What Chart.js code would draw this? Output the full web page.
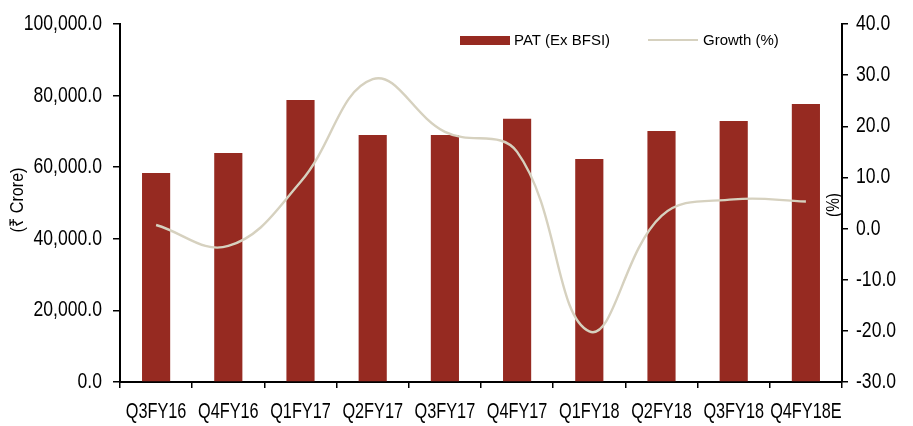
<!DOCTYPE html>
<html lang="en">
<head>
<meta charset="UTF-8">
<title>PAT (Ex BFSI) and Growth</title>
<script src="https://cdn.jsdelivr.net/npm/chart.js"></script>
<style>
  html, body { margin: 0; padding: 0; background: #fff; }
  #wrap { width: 913px; height: 426px; position: relative; }
</style>
</head>
<body>
<div id="wrap"><canvas id="patChart"></canvas></div>
<script>
const quarters = ['Q3FY16', 'Q4FY16', 'Q1FY17', 'Q2FY17', 'Q3FY17', 'Q4FY17', 'Q1FY18', 'Q2FY18', 'Q3FY18', 'Q4FY18E'];
const patExBfsi = [58400, 64000, 78800, 69000, 69000, 73500, 62300, 70100, 72900, 77650];
const growthPct = [0.7, -3.4, 9.1, 29.2, 18.9, 15.0, -20.1, 2.5, 5.7, 5.3];

const sans = "'Liberation Sans', Arial, sans-serif";
const barColor = '#962a21';
const lineColor = '#d6d1bf';

const fmt = v => Number(v).toLocaleString('en-US', { minimumFractionDigits: 1, maximumFractionDigits: 1 });

// the original uses a narrow face; no narrow font here, so squeeze Liberation Sans
function narrowText(ctx, text, x, y, size, sx, align, rot) {
    ctx.save();
    ctx.translate(x, y);
    if (rot) ctx.rotate(rot);
    ctx.scale(sx, 1);
    ctx.font = size + 'px ' + sans;
    ctx.textAlign = align;
    ctx.textBaseline = 'middle';
    ctx.fillStyle = '#000';
    ctx.fillText(text, 0, 0);
    ctx.restore();
}

const extras = {
    id: 'extras',
    afterDraw(chart) {
        const ctx = chart.ctx;
        const { x, y, y1 } = chart.scales;

        x.ticks.forEach((t, i) => {
            narrowText(ctx, quarters[i], x.getPixelForTick(i), 412, 22, 0.74, 'center');
        });
        y.ticks.forEach((t, i) => {
            narrowText(ctx, fmt(t.value), 102, y.getPixelForTick(i), 22, 0.8, 'right');
        });
        y1.ticks.forEach((t, i) => {
            narrowText(ctx, fmt(t.value), 856, y1.getPixelForTick(i), 22, 0.8, 'left');
        });

        narrowText(ctx, '(\u20B9 Crore)', 18, 200, 19, 0.85, 'center', -Math.PI / 2);
        narrowText(ctx, '(%)', 834, 205, 18, 0.85, 'center', -Math.PI / 2);

        // legend
        ctx.save();
        ctx.fillStyle = barColor;
        ctx.fillRect(460, 36, 50, 9);
        ctx.strokeStyle = lineColor;
        ctx.lineWidth = 2;
        ctx.beginPath();
        ctx.moveTo(648, 40);
        ctx.lineTo(698, 40);
        ctx.stroke();
        ctx.fillStyle = '#000';
        ctx.font = '15px ' + sans;
        ctx.textBaseline = 'middle';
        ctx.fillText('PAT (Ex BFSI)', 514, 41);
        ctx.fillText('Growth (%)', 703, 41);
        ctx.restore();
    }
};

const hidden = { color: 'rgba(0,0,0,0)', font: { size: 21 } };

const ctx = document.getElementById('patChart').getContext('2d');
new Chart(ctx, {
    data: {
        labels: quarters,
        datasets: [
            {
                type: 'line',
                label: 'Growth (%)',
                data: growthPct,
                yAxisID: 'y1',
                borderColor: lineColor,
                borderWidth: 2.4,
                pointRadius: 0,
                tension: 0.4,
                fill: false,
                order: 0
            },
            {
                type: 'bar',
                label: 'PAT (Ex BFSI)',
                data: patExBfsi,
                yAxisID: 'y',
                backgroundColor: barColor,
                categoryPercentage: 1,
                barPercentage: 0.39,
                order: 1
            }
        ]
    },
    options: {
        responsive: true,
        maintainAspectRatio: false,
        animation: false,
        layout: { padding: { top: 24, bottom: 0, left: 0, right: 0 } },
        plugins: {
            legend: { display: false },
            tooltip: { enabled: false }
        },
        scales: {
            x: {
                offset: true,
                grid: { offset: true, drawOnChartArea: false, color: '#000', tickLength: 6, lineWidth: 1.5 },
                border: { color: '#000', width: 2 },
                ticks: { ...hidden, maxRotation: 0, autoSkip: false },
                afterFit(s) { s.height = 44; }
            },
            y: {
                position: 'left',
                min: 0,
                max: 100000,
                grid: { drawOnChartArea: false, color: '#000', tickLength: 7, lineWidth: 1.5 },
                border: { color: '#000', width: 2 },
                ticks: { ...hidden, stepSize: 20000 },
                afterFit(s) { s.width = 120; }
            },
            y1: {
                position: 'right',
                min: -30,
                max: 40,
                grid: { drawOnChartArea: false, color: '#000', tickLength: 6, lineWidth: 1.5 },
                border: { color: '#000', width: 2 },
                ticks: { ...hidden, stepSize: 10 },
                afterFit(s) { s.width = 71; }
            }
        }
    },
    plugins: [extras]
});
</script>
</body>
</html>
